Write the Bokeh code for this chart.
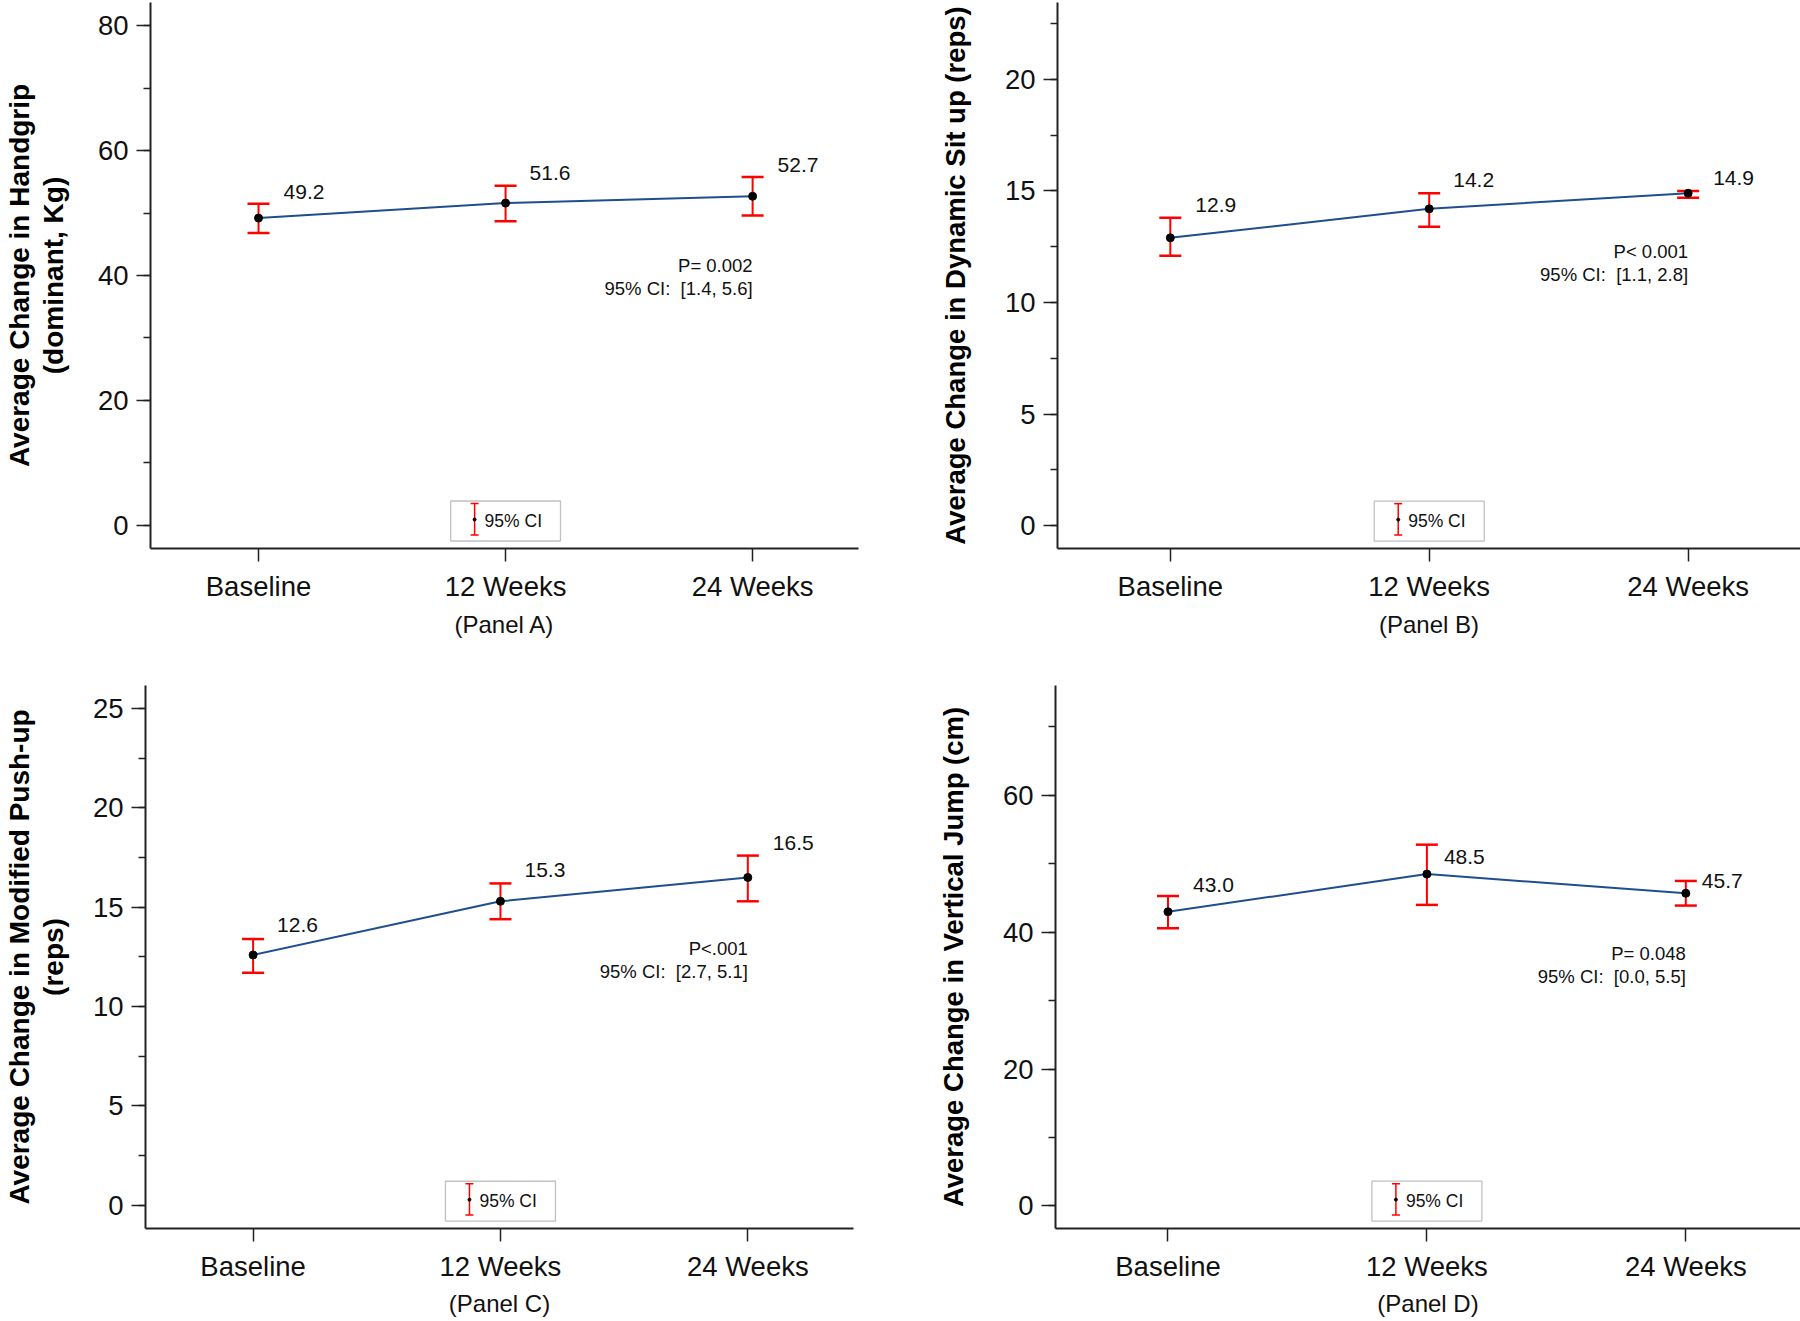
from bokeh.plotting import figure
from bokeh.layouts import row, column
from bokeh.models import (ColumnDataSource, Whisker, TeeHead, SingleIntervalTicker,
                          FixedTicker, Range1d, BoxAnnotation)
from bokeh.embed import file_html
from bokeh.resources import INLINE
from bokeh.core.properties import value

# ---------------- data ----------------
categories = ["Baseline", "12 Weeks", "24 Weeks"]

handgrip_mean = [49.2, 51.6, 52.7]
handgrip_lower = [46.8, 48.7, 49.6]
handgrip_upper = [51.5, 54.4, 55.8]
handgrip_p = "P= 0.002"
handgrip_ci = "95% CI:\u00a0 [1.4, 5.6]"

situp_mean = [12.9, 14.2, 14.9]
situp_lower = [12.1, 13.4, 14.7]
situp_upper = [13.8, 14.9, 15.0]
situp_p = "P< 0.001"
situp_ci = "95% CI:\u00a0 [1.1, 2.8]"

pushup_mean = [12.6, 15.3, 16.5]
pushup_lower = [11.7, 14.4, 15.3]
pushup_upper = [13.4, 16.2, 17.6]
pushup_p = "P<.001"
pushup_ci = "95% CI:\u00a0 [2.7, 5.1]"

jump_mean = [43.0, 48.5, 45.7]
jump_lower = [40.6, 44.0, 43.9]
jump_upper = [45.3, 52.8, 47.5]
jump_p = "P= 0.048"
jump_ci = "95% CI:\u00a0 [0.0, 5.5]"

legend_text = "95% CI"

# ---------------- styling / layout ----------------
FONT = "Liberation Sans"
LINE_BLUE = "#1F4E8F"
RED = "#FF0000"
AX = "#222222"

cfgs = {
    "A": dict(width=900, height=660, bl=149, br=42, bt=2, bb=112,
              xr=(0.5627, 3.4286), yr=(-3.75, 83.75), interval=20,
              lxo=[25, 24, 25], lyo=[-26, -30, -31], po=(69, 92),
              xls=6, yls=26, yfs="28px"),
    "B": dict(width=900, height=660, bl=157, br=0, bt=2, bb=110,
              xr=(0.5643, 3.434), yr=(-1.027, 23.45), interval=5,
              lxo=[25, 24, 25], lyo=[-33, -29, -15], po=(58, 81),
              xls=6, yls=31, yfs="27.5px"),
    "C": dict(width=900, height=661, bl=145, br=47, bt=25, bb=90,
              xr=(0.565, 3.4273), yr=(-1.166, 26.16), interval=5,
              lxo=[24, 24, 25], lyo=[-30, -31, -34], po=(71, 94),
              xls=5, yls=21, yfs="28px"),
    "D": dict(width=900, height=661, bl=155, br=0, bt=23, bb=93,
              xr=(0.5655, 3.443), yr=(-3.29, 76.06), interval=20,
              lxo=[25, 17, 16], lyo=[-27, -17, -12], po=(60, 83),
              xls=5, yls=31, yfs="27.5px"),
}


def make_panel(mean, lower, upper, p_text, ci_text, y_title, x_title, cfg):
    p = figure(width=cfg["width"], height=cfg["height"],
               x_range=Range1d(*cfg["xr"]), y_range=Range1d(*cfg["yr"]),
               output_backend="svg", toolbar_location=None,
               min_border_left=cfg["bl"], min_border_right=cfg["br"],
               min_border_top=cfg["bt"], min_border_bottom=cfg["bb"])
    p.outline_line_color = None
    p.grid.visible = False
    p.background_fill_color = "white"
    p.border_fill_color = "white"

    xs = list(range(1, len(categories) + 1))

    # x axis
    xa = p.xaxis[0]
    xa.ticker = FixedTicker(ticks=xs)
    xa.major_label_overrides = {x: c for x, c in zip(xs, categories)}
    xa.minor_tick_line_color = None
    xa.major_tick_out = 13
    xa.major_tick_in = 0
    xa.major_label_standoff = 9
    xa.major_label_text_font = FONT
    xa.major_label_text_font_size = "27.5px"
    xa.major_label_text_color = "#111111"
    xa.axis_label = x_title
    xa.axis_label_text_font = FONT
    xa.axis_label_text_font_size = "24px"
    xa.axis_label_text_font_style = "normal"
    xa.axis_label_text_color = "#111111"
    xa.axis_label_standoff = cfg["xls"]
    xa.axis_line_color = AX
    xa.axis_line_width = 2
    xa.major_tick_line_color = AX
    xa.major_tick_line_width = 1.5

    # y axis
    ya = p.yaxis[0]
    ya.ticker = SingleIntervalTicker(interval=cfg["interval"], num_minor_ticks=2)
    ya.major_tick_out = 14
    ya.major_tick_in = 0
    ya.minor_tick_out = 7
    ya.minor_tick_in = 0
    ya.major_label_standoff = 8
    ya.major_label_text_font = FONT
    ya.major_label_text_font_size = "27.5px"
    ya.major_label_text_color = "#111111"
    ya.axis_label = y_title
    ya.axis_label_text_font = FONT
    ya.axis_label_text_font_size = cfg["yfs"]
    ya.axis_label_text_font_style = "bold"
    ya.axis_label_text_color = "#000000"
    ya.axis_label_text_line_height = 1.1
    ya.axis_label_standoff = cfg["yls"]
    ya.axis_line_color = AX
    ya.axis_line_width = 2
    ya.major_tick_line_color = AX
    ya.major_tick_line_width = 1.5
    ya.minor_tick_line_color = AX
    ya.minor_tick_line_width = 1.5

    # error bars
    src = ColumnDataSource(dict(x=xs, mean=mean, lower=lower, upper=upper,
                                label=[f"{v:.1f}" for v in mean],
                                xo=cfg["lxo"], yo=cfg["lyo"]))
    w = Whisker(source=src, base="x", upper="upper", lower="lower",
                line_color=RED, line_width=2,
                upper_head=TeeHead(size=22, line_color=RED, line_width=2.5),
                lower_head=TeeHead(size=22, line_color=RED, line_width=2.5))
    p.add_layout(w)

    p.line("x", "mean", source=src, line_color=LINE_BLUE, line_width=2)
    p.scatter("x", "mean", source=src, size=8, fill_color="black", line_color="black")

    p.text("x", "mean", text="label", source=src, x_offset="xo", y_offset="yo",
           text_font=value(FONT), text_font_size="21px", text_color="#111111",
           text_align="left", text_baseline="middle")

    # p-value annotation, right-aligned under last point
    p.text(x=[xs[-1], xs[-1]], y=[mean[-1], mean[-1]], text=[p_text, ci_text],
           y_offset=[cfg["po"][0], cfg["po"][1]],
           text_font=value(FONT), text_font_size="18.5px", text_color="#111111",
           text_align="right", text_baseline="middle")

    # legend box (drawn in data units converted from pixels)
    fw = cfg["width"] - cfg["bl"] - cfg["br"]
    fh = cfg["height"] - cfg["bt"] - cfg["bb"]
    ux = (cfg["xr"][1] - cfg["xr"][0]) / fw
    uy = (cfg["yr"][1] - cfg["yr"][0]) / fh
    cx = xs[1]
    y0 = cfg["yr"][0]
    box = BoxAnnotation(left=cx - 55 * ux, right=cx + 55 * ux,
                        bottom=y0 + 7.5 * uy, top=y0 + 47.5 * uy,
                        fill_color="white", fill_alpha=1.0,
                        line_color="#333333", line_width=1.3, level="underlay")
    p.add_layout(box)
    ix = cx - 31 * ux
    ylo, yhi, ymid = y0 + 13.5 * uy, y0 + 45 * uy, y0 + 29 * uy
    p.segment(x0=[ix], y0=[ylo], x1=[ix], y1=[yhi], line_color=RED, line_width=1.5)
    p.scatter(x=[ix, ix], y=[ylo, yhi], marker="dash", size=8, line_color=RED, line_width=1.5)
    p.scatter(x=[ix], y=[ymid], size=3, fill_color="black", line_color="black")
    p.text(x=[cx - 21 * ux], y=[y0 + 28 * uy], text=[legend_text],
           text_font=value(FONT), text_font_size="17.5px", text_color="#111111",
           text_align="left", text_baseline="middle")
    return p


pA = make_panel(handgrip_mean, handgrip_lower, handgrip_upper, handgrip_p, handgrip_ci,
                "Average Change in Handgrip\n(dominant, Kg)", "(Panel A)", cfgs["A"])
pB = make_panel(situp_mean, situp_lower, situp_upper, situp_p, situp_ci,
                "Average Change in Dynamic Sit up (reps)", "(Panel B)", cfgs["B"])
pC = make_panel(pushup_mean, pushup_lower, pushup_upper, pushup_p, pushup_ci,
                "Average Change in Modified Push-up\n(reps)", "(Panel C)", cfgs["C"])
pD = make_panel(jump_mean, jump_lower, jump_upper, jump_p, jump_ci,
                "Average Change in Vertical Jump (cm)", "(Panel D)", cfgs["D"])

layout = column(row(pA, pB), row(pC, pD))

open("out.html", "w").write(file_html(layout, INLINE))
